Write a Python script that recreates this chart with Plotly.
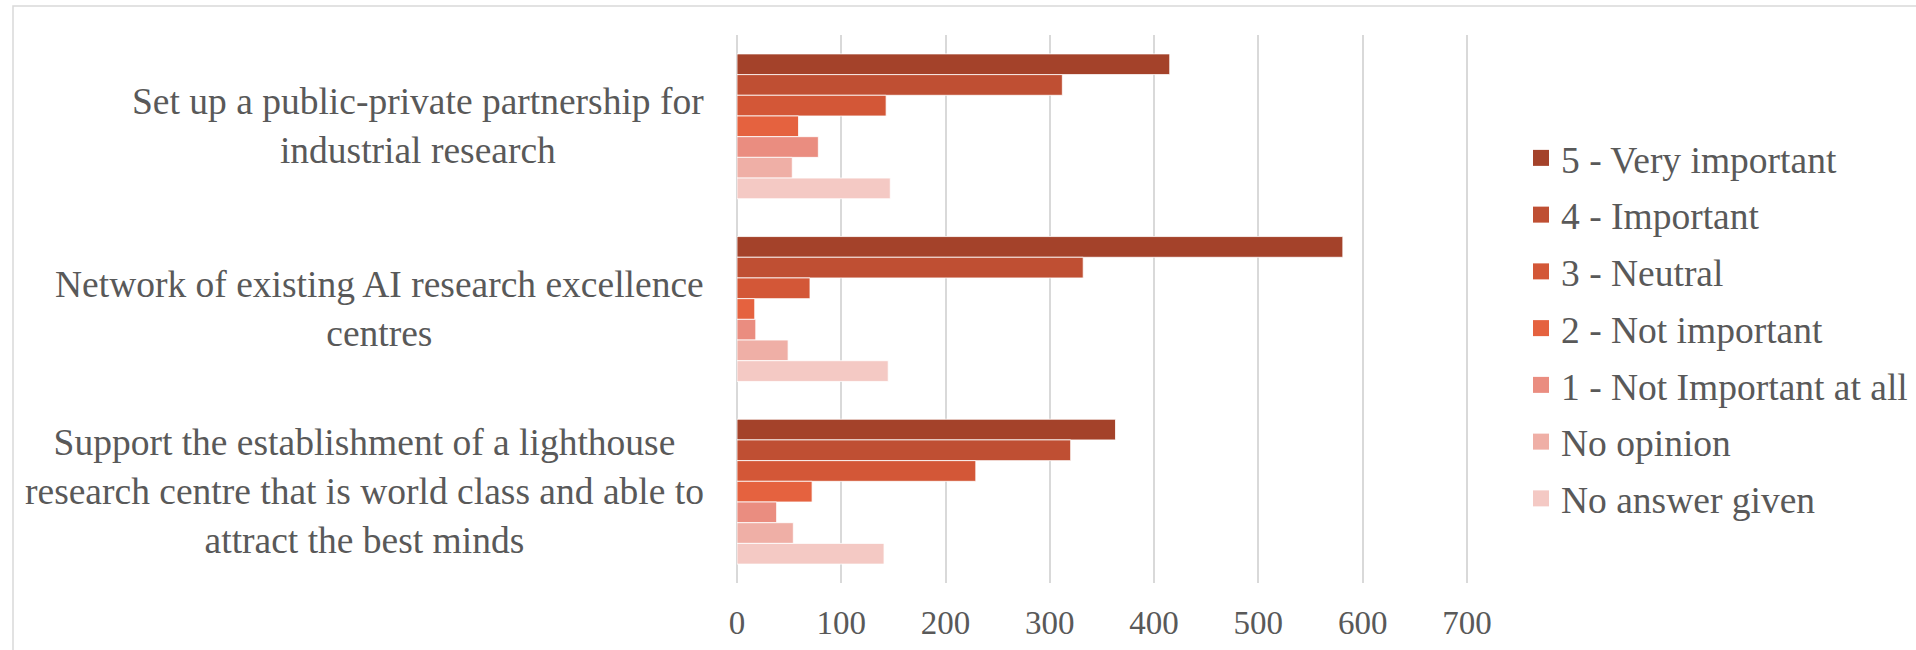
import plotly.graph_objects as go

# Survey measures (rows top to bottom)
categories = [
    "Set up a public-private partnership for<br>industrial research",
    "Network of existing AI research excellence<br>centres",
    "Support the establishment of a lighthouse<br>research centre that is world class and able to<br>attract the best minds",
]
category_keys = ["PPP", "Network", "Lighthouse"]

series_names = [
    "5 - Very important",
    "4 - Important",
    "3 - Neutral",
    "2 - Not important",
    "1 - Not Important at all",
    "No opinion",
    "No answer given",
]

very_important = [415, 581, 363]
important = [312, 332, 320]
neutral = [143, 70, 229]
not_important = [59, 17, 72]
not_important_at_all = [78, 18, 38]
no_opinion = [53, 49, 54]
no_answer = [147, 145, 141]

series_values = [
    very_important,
    important,
    neutral,
    not_important,
    not_important_at_all,
    no_opinion,
    no_answer,
]

x_ticks = [0, 100, 200, 300, 400, 500, 600, 700]

colors = ["#A4422A", "#BF4F33", "#D35737", "#E5623F", "#EA8D80", "#EFAFA6", "#F4C9C4"]

FONT = "Liberation Serif, Times New Roman, serif"
TEXT = "#595959"

W, H = 1916, 650
L, R, T, B = 737, 447, 35, 67
plot_w = W - L - R
plot_h = H - T - B


def px_x(p):
    return (p - L) / plot_w


def px_y(p):
    return (H - B - p) / plot_h


fig = go.Figure()
for i, (name, vals) in enumerate(zip(series_names, series_values)):
    fig.add_trace(
        go.Bar(
            y=category_keys,
            x=vals,
            name=name,
            orientation="h",
            showlegend=False,
            marker=dict(color=colors[i], line=dict(color="white", width=0.8)),
            hoverinfo="x+name",
        )
    )

# Legend entries with larger square swatches
for i, name in enumerate(series_names):
    fig.add_trace(
        go.Scatter(
            x=[None], y=[None], mode="markers", name=name,
            legendgroup=f"g{i}",
            marker=dict(symbol="square", size=16, color=colors[i], line=dict(width=0)),
            hoverinfo="skip",
        )
    )

# Centered multi-line category labels to the left of the axis
for key, label in zip(category_keys, categories):
    fig.add_annotation(
        x=px_x(706), xref="paper", xanchor="right",
        y=key, yref="y", yanchor="middle",
        text=label, align="center", showarrow=False,
        font=dict(family=FONT, size=37.5, color=TEXT),
    )

# Light frame around the chart
fig.add_shape(
    type="path", xref="paper", yref="paper",
    path=f"M {px_x(13)},{px_y(700)} L {px_x(13)},{px_y(6)} L {px_x(1930)},{px_y(6)}",
    line=dict(color="#D9D9D9", width=1.5),
)

fig.update_layout(
    width=W, height=H,
    margin=dict(l=L, r=R, t=T, b=B, autoexpand=False),
    paper_bgcolor="white", plot_bgcolor="white",
    barmode="group", bargap=0.207, bargroupgap=0,
    font=dict(family=FONT, color=TEXT),
    xaxis=dict(
        range=[0, 702], tickvals=x_ticks, showgrid=True,
        gridcolor="#D9D9D9", gridwidth=1.5, zeroline=True,
        zerolinecolor="#D9D9D9", zerolinewidth=1.5,
        showline=False, ticks="", ticklabelstandoff=17,
        tickfont=dict(family=FONT, size=33, color=TEXT),
        fixedrange=True,
    ),
    yaxis=dict(
        type="category", categoryorder="array", categoryarray=category_keys,
        autorange="reversed", showticklabels=False, showgrid=False,
        zeroline=False, showline=False, ticks="",
    ),
    legend=dict(
        x=px_x(1521), xanchor="left", y=px_y(127), yanchor="top",
        font=dict(family=FONT, size=37.5, color=TEXT),
        traceorder="grouped", tracegroupgap=5, bgcolor="rgba(0,0,0,0)",
    ),
    showlegend=True,
)

fig.write_html("out.html")
